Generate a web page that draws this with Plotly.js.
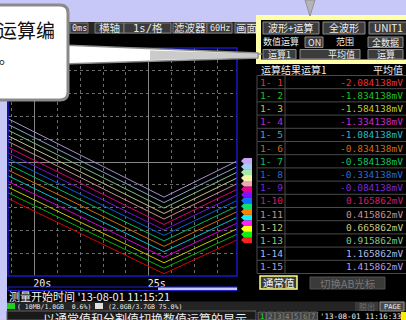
<!DOCTYPE html>
<html><head><meta charset="utf-8">
<script src="https://cdn.plot.ly/plotly-3.0.1.min.js"></script>
<style>html,body{margin:0;padding:0;background:#000;overflow:hidden}</style>
</head><body><div id="chart" style="width:406px;height:320px"></div>
<script>
// ---- data ----
const channels = ['1- 1','1- 2','1- 3','1- 4','1- 5','1- 6','1- 7','1- 8','1- 9','1-10','1-11','1-12','1-13','1-14','1-15'];
const averages = [-2.084138,-1.834138,-1.584138,-1.334138,-1.084138,-0.834138,-0.584138,-0.334138,-0.084138,0.165862,0.415862,0.665862,0.915862,1.165862,1.415862];
const timePoints = [18.85, 25.66, 28.85];
const startValues  = [-1.60,-1.35,-1.10,-0.85,-0.60,-0.35,-0.10,0.15,0.40,0.65,0.90,1.15,1.40,1.65,1.90];
const vertexValues = [-4.90,-4.66,-4.42,-4.18,-3.94,-3.70,-3.46,-3.22,-2.98,-2.74,-2.50,-2.26,-2.02,-1.78,-1.54];
const endValues    = [-3.42,-3.17,-2.93,-2.68,-2.43,-2.18,-1.94,-1.69,-1.44,-1.20,-0.95,-0.70,-0.45,-0.21,0.04];
const lineColors = ['#d80000','#00b400','#c8c800','#d000d0','#00c0c8','#d07000','#00b860','#0060d8','#7410d8','#d80070','#c88c94','#c0c080','#84bc84','#88a4cc','#a890d0'];
const textColors = ['#e83030','#20c020','#c8c820','#c828c8','#20b8c8','#d06810','#10c060','#2868d8','#7828d8','#d81868','#c89090','#c8c884','#84c484','#a8bce4','#b898e4'];
const tagColors  = ['#ff2020','#10f010','#ffff10','#ff20ff','#10f0f0','#ff8000','#10e070','#1070ff','#8010ff','#e8008c','#f0a8b8','#f4f4a8','#a8e8a8','#a8ccf4','#c8a8f4'];
const xTickValues = [20, 25];
const xTickLabels = ['20s', '25s'];

// ---- geometry helpers (pixel -> paper) ----
const L=8, R=237, T=48, B=276;
const px = x => (x-L)/(R-L);
const py = y => (B-y)/(B-T);
const shapes = [], annotations = [];
function rect(x0,y0,x1,y1,fill,line,lw){
  shapes.push({type:'rect',xref:'paper',yref:'paper',x0:px(x0),x1:px(x1),y0:py(y1),y1:py(y0),
    fillcolor:fill||'rgba(0,0,0,0)',line:{color:line||'rgba(0,0,0,0)',width:lw===undefined?(line?1:0):lw}});
}
function hline(x0,x1,y,color,w){shapes.push({type:'line',xref:'paper',yref:'paper',x0:px(x0),x1:px(x1),y0:py(y),y1:py(y),line:{color:color,width:w||1}});}
function vline(x,y0,y1,color,w){shapes.push({type:'line',xref:'paper',yref:'paper',x0:px(x),x1:px(x),y0:py(y0),y1:py(y1),line:{color:color,width:w||1}});}
function poly(pts,fill,line,lw){
  const d = pts.map((p,i)=>(i?'L':'M')+px(p[0])+','+py(p[1])).join(' ')+' Z';
  shapes.push({type:'path',xref:'paper',yref:'paper',path:d,fillcolor:fill,line:{color:line||'rgba(0,0,0,0)',width:lw||0}});
}
const CJK = 'Noto Sans CJK SC, sans-serif';
const MONO = 'DejaVu Sans Mono, Noto Sans CJK SC, monospace';
function text(x,y,s,color,size,anchor,family){
  annotations.push({xref:'paper',yref:'paper',x:px(x),y:py(y),text:s,showarrow:false,
    xanchor:anchor||'left',yanchor:'middle',borderpad:0,font:{color:color||'#fff',size:size||11,family:family||CJK}});
}

// ---- traces ----
const traces = channels.map((c,i)=>({
  type:'scatter',mode:'lines',name:c,x:timePoints,
  y:[startValues[i],vertexValues[i],endValues[i]],
  line:{color:lineColors[i],width:1}
})).reverse();

// ---- backgrounds ----
rect(0,0,406,22,'#c8c8f8');
rect(0,60,7,320,'#c8c8f8');
// top toolbar
rect(66,22,258,34,'#262626');
[[70,88,'0ms'],[95,124,'横轴'],[124,171,'1s/格'],[173,207,'滤波器'],[207,232,'60Hz'],[235,258,'画面']].forEach(c=>{
  rect(c[0],23,c[1],33,'#3a3a3a','#7c7c7c',1);
  const small = c[2]==='60Hz'||c[2]==='0ms';
  text((c[0]+c[1])/2,28,c[2],'#e8e8e8',small?8.5:10.5,'center',(small||c[2]==='1s/格')?MONO:CJK);
});
// plot border
shapes.push({type:'rect',xref:'paper',yref:'paper',x0:0,x1:1,y0:0,y1:1,line:{color:'#1818c8',width:1.5}});
// scrollbar
rect(8,287,237,290.5,'#000','#2020c8',1);
rect(158,287.5,237,290,'#c8c8f4');

// right top yellow frame
rect(256,15,406,64,'#ffffa8');
rect(261,20,406,59.5,'#000');
function btn(x0,y0,x1,y1,s,col,anchor,tx,sz){
  rect(x0,y0,x1,y1,'#3c3c3c','#8c8c8c',1);
  text(tx!==undefined?tx:(x0+x1)/2,(y0+y1)/2,s,col||'#f0f0f0',sz||10,anchor||'center');
}
btn(263,22,319,34,'波形+运算');
btn(323,22,365,34,'全波形');
btn(369,22,408,34,'UNIT1','#f0f0f0','center',388);
text(262,42,'数值运算','#f0f0f0',9);
btn(305,37,323,47.5,'ON',null,null,undefined,9);
text(345,42,'范围','#f0f0f0',9,'center');
btn(368,37,403,47.5,'全数据',null,null,undefined,9);
btn(263,49.5,296,59,'运算1',null,null,undefined,9);
btn(300,49.5,360,59,'平均值','#f0f0f0','right',356,9);
btn(368,49.5,403,59,'运算',null,null,undefined,9);
hline(255,262,54,'#909090',1.5);

// table
text(260,69.5,'运算结果运算1','#f0f0f0',10);
text(404,69.5,'平均值','#f0f0f0',10,'right');
const rowH = 13.2, row0 = 75.5;
hline(257,406,row0,'#4a4a4a');
vline(257,row0,row0+15*rowH,'#4a4a4a');
vline(285,row0,row0+15*rowH,'#4a4a4a');
channels.forEach((c,i)=>{
  const yc = row0 + rowH*(i+0.5);
  hline(257,406,row0+rowH*(i+1),'#4a4a4a');
  text(259,yc,c,textColors[i],9.5,'left',MONO);
  text(404,yc,averages[i].toFixed(6)+'mV',textColors[i],9.5,'right',MONO);
});
// buttons below table
rect(260,276,297,289,'#3c3c3c','#ffff80',1.5);
text(278.5,282.5,'通常值','#f8f8f8',10.5,'center');
rect(310,277,385,289,'#3a3a3a','#505050',1);
text(347.5,283,'切换AB光标','#787878',10.5,'center');

// tags at line ends
channels.forEach((c,i)=>{
  const v = endValues[i];
  const d = `M ${px(241)},${v} L ${px(244)},${v+0.13} L ${px(252)},${v+0.13} L ${px(252)},${v-0.13} L ${px(244)},${v-0.13} Z`;
  shapes.push({type:'path',xref:'paper',yref:'y',path:d,fillcolor:tagColors[i],line:{width:0}});
});

// measurement start
text(8,296,"测量开始时间 '13-08-01 11:15:21",'#f4f4f4',11);
// status bar
rect(7,301.5,406,311,'#242424');
rect(7,303,15,309,'#20d020');
text(16,306.5,'( 10MB/1.0GB  0.6%)','#e8e8e8',6.5,'left',MONO);
rect(95,303,103,309,'#e0e0e0');
text(107,306.5,'(2.0GB/3.7GB 75.0%)','#e8e8e8',6.5,'left',MONO);
rect(355,302,378,311,'#3a3a3a');
text(366.5,306.5,'脱出','#707070',8,'center');
rect(380,302,404,311,'#4a4a4a','#909090',1);
text(392,306.5,'PAGE','#f0f0f0',7,'center',MONO);
// bottom message bar
rect(7,311,256,320,'#1a1a1a','#606060',1);
text(42,318.5,'以通常值和分割值切换数值运算的显示','#f0f0f0',12);
for(let k=1;k<=7;k++){
  const x0 = 258 + (k-1)*8.6;
  rect(x0,312,x0+8,320,k===1?'#303030':'#404040','#6a6a6a',1);
  text(x0+4,316.5,String(k),k===1?'#20e020':'#8a8a8a',7.5,'center',MONO);
}
text(319,316.5,"'13-08-01 11:16:33",'#f0f0f0',7.5,'left',MONO);
rect(401,312,406,320,'#f0f000');

// top pointer
poly([[305,0],[315,0],[310,16]],'#b4b4b4','#909090',1);
// callout wedge
poly([[62,45],[258,53],[258,58],[62,64]],'#ffffff','#8c8c8c',1.5);
poly([[150,50.5],[258,53.5],[258,57.5],[150,60]],'rgba(160,160,160,0.55)');
// callout box with rounded corners
(function(){
  const x0=-6,y0=5,x1=68,y1=100,r=8;
  const P=(x,y)=>px(x)+','+py(y);
  const d=`M ${P(x0,y0)} L ${P(x1-r,y0)} Q ${P(x1,y0)} ${P(x1,y0+r)} L ${P(x1,y1-r)} Q ${P(x1,y1)} ${P(x1-r,y1)} L ${P(x0,y1)} Z`;
  shapes.push({type:'path',xref:'paper',yref:'paper',path:d,fillcolor:'#ffffff',line:{color:'#8a8a8a',width:3}});
})();
text(56,30,'运算编','#111111',19,'right');
text(-2,56.5,'。','#111111',15,'left');

const layout = {
  width:406,height:320,autosize:false,showlegend:false,
  margin:{l:L,r:406-R,t:T,b:320-B,pad:0},
  paper_bgcolor:'#000',plot_bgcolor:'#000',
  xaxis:{range:[18.85,28.85],tickmode:'array',tickvals:xTickValues,ticktext:xTickLabels,
    showgrid:true,gridcolor:'#858585',gridwidth:1,zeroline:false,showline:false,ticks:'',
    ticklabelshift:8,ticklabelstandoff:0,tickfont:{color:'#f4f4f4',size:10,family:MONO},
    minor:{tickmode:'linear',tick0:0,dtick:1,showgrid:true,gridcolor:'#6c6c6c',griddash:'dot',gridwidth:1},fixedrange:true},
  yaxis:{range:[-5,5],tickmode:'array',tickvals:[0],showticklabels:false,showgrid:true,gridcolor:'#858585',
    zeroline:false,showline:false,ticks:'',
    minor:{tickmode:'linear',tick0:0,dtick:1,showgrid:true,gridcolor:'#6c6c6c',griddash:'dot',gridwidth:1},fixedrange:true},
  shapes:shapes,annotations:annotations
};
Plotly.newPlot('chart',traces,layout,{displayModeBar:false,staticPlot:true});
</script></body></html>
